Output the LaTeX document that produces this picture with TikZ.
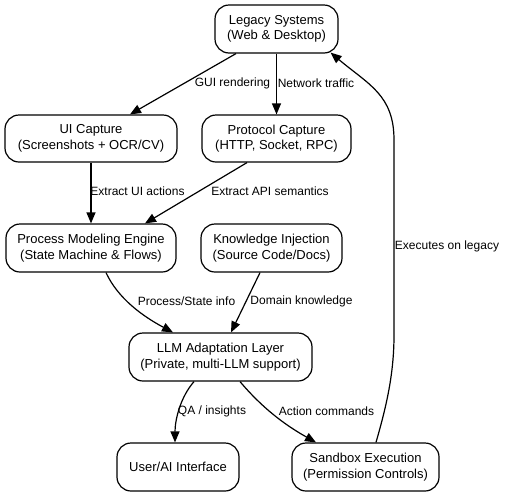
\documentclass[tikz,border=0pt]{standalone}
\usepackage{fontspec}
\setmainfont{Liberation Sans}
\usetikzlibrary{arrows.meta}
\begin{document}
\begin{tikzpicture}[x=1pt,y=-1pt,
  box/.style={draw=black,line width=1.2pt,rounded corners=14pt,align=center,
    inner sep=0pt,font=\fontsize{13}{15.5}\selectfont},
  lbl/.style={inner sep=0pt,font=\fontsize{12}{14}\selectfont},
  edge/.style={draw=black,line width=1.2pt,-{Triangle[length=11pt,width=9pt]}}]
\useasboundingbox (0,0) rectangle (506,496);
\node[box,minimum width=123pt,minimum height=48pt] (leg) at (276.5,29) {Legacy Systems\\(Web \& Desktop)};
\node[box,minimum width=172pt,minimum height=47pt] (ui) at (91,138.5) {UI Capture\\(Screenshots + OCR/CV)};
\node[box,minimum width=149pt,minimum height=47pt] (pro) at (276.5,138.5) {Protocol Capture\\(HTTP, Socket, RPC)};
\node[box,minimum width=170pt,minimum height=48pt] (pme) at (91,248) {Process Modeling Engine\\(State Machine \& Flows)};
\node[box,minimum width=141pt,minimum height=48pt] (kn) at (271.5,248) {Knowledge Injection\\(Source Code/Docs)};
\node[box,minimum width=183pt,minimum height=48pt] (llm) at (220.5,357) {LLM Adaptation Layer\\(Private, multi-LLM support)};
\node[box,minimum width=122pt,minimum height=48pt] (usr) at (178,467) {User/AI Interface};
\node[box,minimum width=147pt,minimum height=48pt] (sbx) at (365.5,467) {Sandbox Execution\\(Permission Controls)};

\draw[edge] ([xshift=-40.5pt]leg.south) -- ([xshift=39pt]ui.north);
\draw[edge] (leg.south) -- (pro.north);
\draw[edge] (ui.south) -- (pme.north);
\draw[edge] ([xshift=-29.5pt]pro.south) -- ([xshift=54pt]pme.north);
\draw[edge] ([xshift=15pt]pme.south) .. controls +(12,26) and +(-30,-16) .. ([xshift=-47.5pt]llm.north);
\draw[edge] ([xshift=-11.5pt]kn.south) -- ([xshift=10.5pt]llm.north);
\draw[edge] ([xshift=-26.5pt]llm.south) .. controls +(-14,16) and +(0,-22) .. ([xshift=-3pt]usr.north);
\draw[edge] ([xshift=19.5pt]llm.south) .. controls +(22,26) and +(-32,-18) .. ([xshift=-49.5pt]sbx.north);
\draw[edge] ([xshift=10.5pt]sbx.north) .. controls +(10,-35) and +(0,40) .. (394,335) -- (394,140)
  .. controls +(0,-45) and +(38,32) .. ([xshift=-8pt,yshift=1pt]leg.south east);

\node[lbl] (l1) at (232.5,83) {GUI rendering};
\node[lbl] (l2) at (316,83) {Network traffic};
\node[lbl] (l3) at (137.5,191) {Extract UI actions};
\node[lbl] (l4) at (270,191) {Extract API semantics};
\node[lbl] (l5) at (186.5,301) {Process/State info};
\node[lbl] (l6) at (301.5,301) {Domain knowledge};
\node[lbl] (l7) at (212,411) {QA / insights};
\node[lbl] (l8) at (326.5,411) {Action commands};
\node[lbl] (l9) at (447,246) {Executes on legacy};
\end{tikzpicture}
\end{document}
